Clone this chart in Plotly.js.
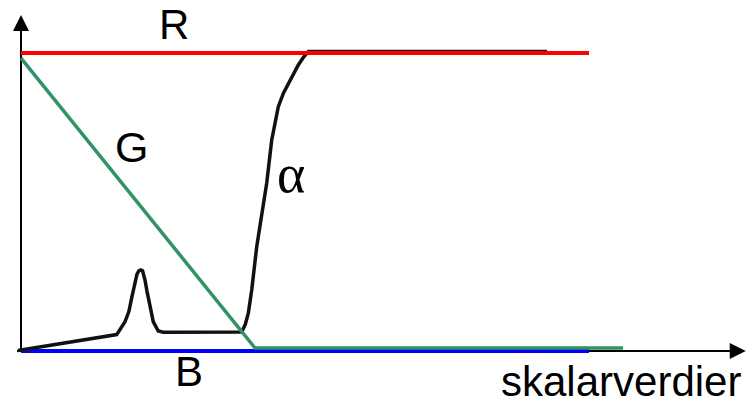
<!DOCTYPE html>
<html>
<head>
<meta charset="utf-8">
<script src="https://cdn.plot.ly/plotly-3.0.1.min.js"></script>
<style>html,body{margin:0;padding:0;background:#fff;}#chart{width:746px;height:406px;}</style>
</head>
<body>
<div id="chart"></div>
<script>
// Scalar axis: 0..100 (transfer-function domain), value axis 0..1
var redX = [0, 100];
var redY = [1, 1];
var blueX = [0, 100];
var blueY = [0, 0];
var greenX = [0, 41.2, 106];
var greenY = [0.983, 0.01, 0.01];
var alphaX = [-0.53, 16.85, 18.31, 19.0, 19.49, 19.80, 20.07, 20.42, 20.75, 21.07, 21.40, 21.83, 22.18, 22.59, 22.89, 23.29, 24.17, 25.05, 38.86, 39.50, 40.02, 40.62, 41.50, 42.38, 43.26, 44.14, 45.30, 46.20, 47.06, 48.00, 48.82, 49.70, 50.58, 92.61];
var alphaY = [0.002, 0.055, 0.098, 0.133, 0.178, 0.208, 0.238, 0.258, 0.269, 0.272, 0.269, 0.238, 0.201, 0.165, 0.131, 0.098, 0.067, 0.063, 0.064, 0.090, 0.127, 0.205, 0.350, 0.462, 0.564, 0.708, 0.820, 0.865, 0.898, 0.933, 0.960, 0.985, 1.005, 1.005];
var labels = ['R', 'G', 'α', 'B'];
var axisLabel = 'skalarverdier';

var sansFont = '"Liberation Sans", Arial, sans-serif';

var traces = [
  {x: blueX, y: blueY, mode: 'lines', line: {color: '#0000ff', width: 4}, hoverinfo: 'skip'},
  {x: alphaX, y: alphaY, mode: 'lines', line: {color: '#111111', width: 3.5}, hoverinfo: 'skip'},
  {x: greenX, y: greenY, mode: 'lines', line: {color: '#319363', width: 3.5}, hoverinfo: 'skip'},
  {x: redX, y: redY, mode: 'lines', line: {color: '#ff0000', width: 4}, hoverinfo: 'skip'}
];

var layout = {
  width: 746, height: 406,
  margin: {l: 0, r: 0, t: 0, b: 0, pad: 0},
  paper_bgcolor: '#ffffff', plot_bgcolor: '#ffffff',
  showlegend: false,
  xaxis: {range: [-3.697, 127.64], visible: false, fixedrange: true},
  yaxis: {range: [-0.1846, 1.1779], visible: false, fixedrange: true},
  shapes: [
    {type: 'line', xref: 'x', yref: 'y', x0: -0.7, y0: 0, x1: 125, y1: 0, layer: 'below', line: {color: '#000', width: 2}},
    {type: 'line', xref: 'x', yref: 'y', x0: 0, y0: 0, x1: 0, y1: 1.09, layer: 'below', line: {color: '#000', width: 2}}
  ],
  annotations: [
    {x: 127.6, y: 0, ax: 122, ay: 0, axref: 'x', ayref: 'y', xref: 'x', yref: 'y', text: '', showarrow: true, arrowhead: 2, arrowwidth: 2, arrowsize: 1.6, arrowcolor: '#000', standoff: 0},
    {x: 0, y: 1.1275, ax: 0, ay: 1.06, axref: 'x', ayref: 'y', xref: 'x', yref: 'y', text: '', showarrow: true, arrowhead: 2, arrowwidth: 2, arrowsize: 1.6, arrowcolor: '#000', standoff: 0},
    {x: 26.9, y: 1.095, xref: 'x', yref: 'y', text: labels[0], showarrow: false, font: {family: sansFont, size: 42, color: '#000'}},
    {x: 19.45, y: 0.686, xref: 'x', yref: 'y', text: labels[1], showarrow: false, font: {family: sansFont, size: 43, color: '#000'}},
    {x: 47.62, y: 0.595, xref: 'x', yref: 'y', text: labels[2], showarrow: false, font: {family: '"Liberation Serif", "Times New Roman", serif', size: 54, color: '#000'}},
    {x: 29.58, y: -0.068, xref: 'x', yref: 'y', text: labels[3], showarrow: false, font: {family: sansFont, size: 42, color: '#000'}},
    {x: 127.0, y: -0.183, xref: 'x', yref: 'y', xanchor: 'right', yanchor: 'bottom', borderpad: 0, text: axisLabel, showarrow: false, font: {family: sansFont, size: 42, color: '#000'}}
  ]
};

Plotly.newPlot('chart', traces, layout, {staticPlot: true, displayModeBar: false});
</script>
</body>
</html>
